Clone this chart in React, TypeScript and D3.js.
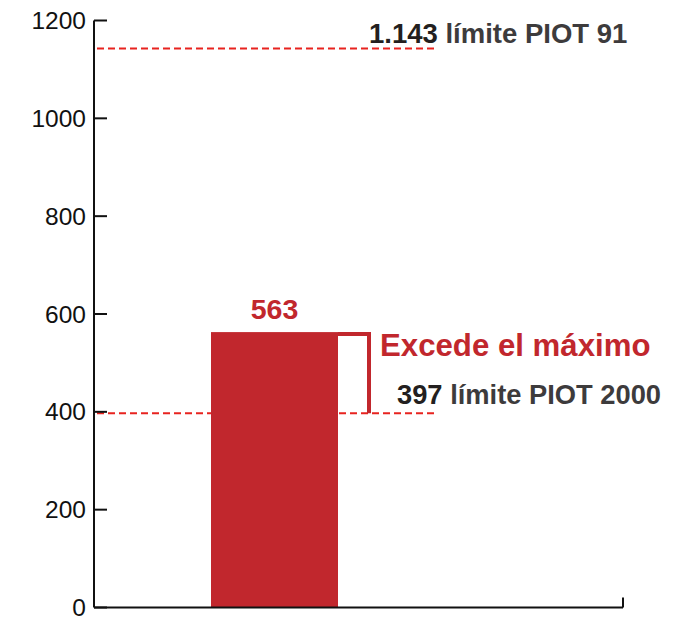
import React from "react";
import * as d3 from "d3";

const categories = ["Valor"];
const values = [563];
const limitValues = [1143, 397];
const limitNumbers = ["1.143", "397"];
const limitTexts = [" límite PIOT 91", " límite PIOT 2000"];
const yTicks = [0, 200, 400, 600, 800, 1000, 1200];
const exceedLabel = "Excede el máximo";

const W = 676;
const H = 617;
const RED = "#c1272d";
const DASH_RED = "#e8231f";
const DARK = "#231f20";
const GRAY = "#3d3b3c";
const FONT = "'Liberation Sans', Arial, Helvetica, sans-serif";

export default function App() {
  const y = d3.scaleLinear().domain([0, 1200]).range([607.5, 20.5]);
  const axisX = 94;
  const axisRight = 623;
  const x = d3.scaleBand<string>().domain(categories).range([211, 338]).padding(0);

  const barRight = (x(categories[0]) as number) + x.bandwidth();
  const bracketX = 369;
  const v = values[0];

  return (
    <svg
      width={W}
      height={H}
      style={{ position: "absolute", left: 0, top: 0, background: "#fff" }}
    >
      {/* dashed limit lines */}
      {limitValues.map((lv, i) => (
        <line
          key={"lim" + i}
          x1={axisX + 3}
          x2={435}
          y1={y(lv)}
          y2={y(lv)}
          stroke={DASH_RED}
          strokeWidth={2}
          strokeDasharray="7,4"
        />
      ))}

      {/* bar */}
      {categories.map((c, i) => (
        <rect
          key={c}
          x={x(c)}
          y={y(values[i])}
          width={x.bandwidth()}
          height={y(0) - y(values[i])}
          fill={RED}
        />
      ))}

      {/* bracket */}
      <path
        d={`M${barRight},${y(v) + 2} H${bracketX} V${y(limitValues[1])}`}
        fill="none"
        stroke={RED}
        strokeWidth={4}
      />

      {/* y axis */}
      <line x1={axisX} x2={axisX} y1={y(1200)} y2={y(0)} stroke="#111" strokeWidth={2} />
      {yTicks.map((t) => (
        <g key={t}>
          <line x1={axisX} x2={axisX + 13} y1={y(t)} y2={y(t)} stroke="#111" strokeWidth={2} />
          <text
            x={86}
            y={y(t)}
            dy="0.35em"
            textAnchor="end"
            fontFamily={FONT}
            fontSize={24.5}
            fill="#111"
          >
            {t}
          </text>
        </g>
      ))}

      {/* x axis */}
      <line x1={axisX} x2={axisRight} y1={y(0)} y2={y(0)} stroke="#111" strokeWidth={2} />
      <line x1={axisRight} x2={axisRight} y1={y(0)} y2={y(0) - 10} stroke="#111" strokeWidth={2} />

      {/* value label */}
      <text
        x={(x(categories[0]) as number) + x.bandwidth() / 2}
        y={y(v) - 13}
        textAnchor="middle"
        fontFamily={FONT}
        fontWeight="bold"
        fontSize={28.5}
        fill={RED}
      >
        {v}
      </text>

      {/* exceed label */}
      <text
        x={380}
        y={356}
        fontFamily={FONT}
        fontWeight="bold"
        fontSize={31.2}
        fill={RED}
      >
        {exceedLabel}
      </text>

      {/* limit labels */}
      <text x={369} y={43} fontFamily={FONT} fontWeight="bold" fontSize={27.5}>
        <tspan fill={DARK}>{limitNumbers[0]}</tspan>
        <tspan fill={GRAY}>{limitTexts[0]}</tspan>
      </text>
      <text x={397} y={403.5} fontFamily={FONT} fontWeight="bold" fontSize={27.3}>
        <tspan fill={DARK}>{limitNumbers[1]}</tspan>
        <tspan fill={GRAY}>{limitTexts[1]}</tspan>
      </text>
    </svg>
  );
}
